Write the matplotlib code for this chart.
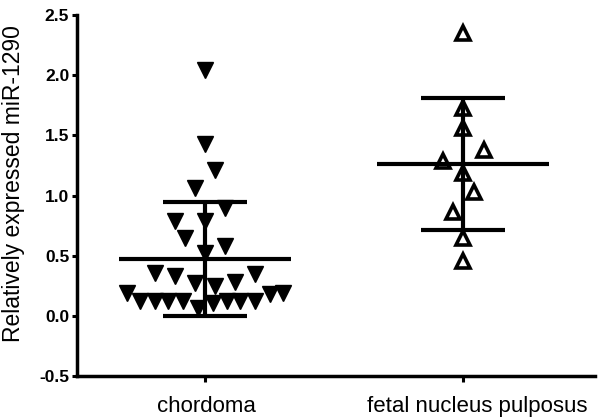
import numpy as np
import matplotlib
matplotlib.use("Agg")
import matplotlib.pyplot as plt
import matplotlib.transforms as mtransforms

plt.rcParams['font.family'] = ['Liberation Sans', 'DejaVu Sans']

groups = ['chordoma', 'fetal nucleus pulposus']

# relative expression values
chordoma = [2.04, 1.43, 1.21, 1.06, 0.90, 0.79, 0.79, 0.65, 0.58, 0.52,
            0.36, 0.33, 0.35, 0.27, 0.25, 0.28,
            0.19, 0.125, 0.125, 0.125, 0.125, 0.07, 0.11, 0.125, 0.125, 0.125, 0.18, 0.19]
chordoma_jitter = [0, 0, 0.039, -0.039, 0.078, -0.116, 0, -0.078, 0.078, 0,
                   -0.194, -0.116, 0.194, -0.039, 0.039, 0.116,
                   -0.302, -0.252, -0.194, -0.143, -0.085, -0.027, 0.031, 0.085, 0.136, 0.194, 0.252, 0.302]

fetal = [2.35, 1.73, 1.56, 1.375, 1.29, 1.19, 1.03, 0.86, 0.65, 0.46]
fetal_jitter = [0, 0, 0, 0.081, -0.078, 0, 0.043, -0.039, 0, 0]

# mean and SD bars as shown
means = [0.47, 1.26]
sd_low = [0.0, 0.71]
sd_high = [0.95, 1.81]

fig = plt.figure(figsize=(6, 4.17), dpi=100)
ax = fig.add_axes([0.128, 0.098, 0.864, 0.866])

ax.plot(np.array(chordoma_jitter) + 0, chordoma, linestyle='none', marker='v',
        ms=11, color='black', zorder=3)
ax.plot(np.array(fetal_jitter) + 1, fetal, linestyle='none', marker='^',
        ms=9.5, mfc='white', mec='black', mew=2.6, zorder=3)

for i in range(len(groups)):
    ax.hlines(means[i], i - 0.333, i + 0.333, color='black', lw=3, zorder=4)
    ax.vlines(i, sd_low[i], sd_high[i], color='black', lw=3, zorder=4)
    ax.hlines([sd_low[i], sd_high[i]], i - 0.163, i + 0.163, color='black', lw=3, zorder=4)

ax.set_xlim(-0.496, 1.512)
ax.set_ylim(-0.5, 2.5)
ax.set_yticks([-0.5, 0.0, 0.5, 1.0, 1.5, 2.0, 2.5])
ax.set_yticklabels(['-0.5', '0.0', '0.5', '1.0', '1.5', '2.0', '2.5'],
                   fontweight='bold', fontsize=12.5)
ax.set_xticks([0, 1])
ax.set_xticklabels(groups, fontsize=16)
ax.tick_params(axis='y', length=3.5, width=2.2, pad=2)
ax.tick_params(axis='x', length=4, width=2.2, pad=10)

# the category labels sit a little right of their ticks in the original
for lab, dx in zip(ax.get_xticklabels(), [0.02, 0.14]):
    lab.set_transform(lab.get_transform() + mtransforms.ScaledTranslation(dx, 0, fig.dpi_scale_trans))

for s in ['top', 'right']:
    ax.spines[s].set_visible(False)
for s in ['left', 'bottom']:
    ax.spines[s].set_linewidth(2.5)

ax.set_ylabel('Relatively expressed miR-1290', fontsize=16.5)
ax.yaxis.set_label_coords(-0.1, 0.532)

fig.savefig('out.png', dpi=100)
